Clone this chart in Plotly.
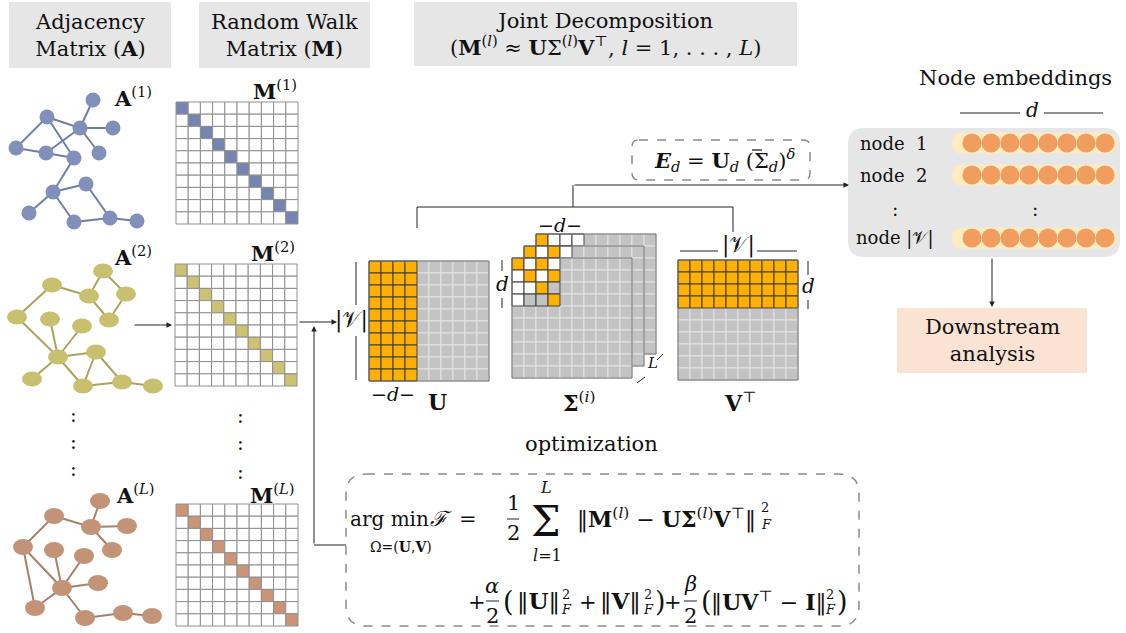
import plotly.graph_objects as go

W, H = 1126, 633
FONT = "DejaVu Serif"

# ---- three graph layers: node centres and edge lists ----
g1_x = [93, 47, 80, 113, 16, 46, 74, 99, 53, 86, 29, 74, 110, 137]
g1_y = [100, 117, 128, 128, 148, 153, 158, 153, 192, 184, 213, 222, 218, 221]
g1_edges = [(0, 2), (1, 2), (1, 4), (1, 6), (2, 5), (2, 3), (2, 7), (4, 5), (5, 6),
            (6, 8), (8, 9), (8, 10), (8, 11), (9, 12), (11, 12), (12, 13)]

g2_x = [103, 52, 89, 126, 17, 50, 82, 109, 58, 96, 32, 83, 122, 153]
g2_y = [271, 285, 296, 294, 317, 319, 326, 320, 357, 352, 379, 386, 382, 386]
g2_edges = [(1, 4), (1, 2), (2, 0), (0, 3), (3, 7), (7, 2), (4, 8), (5, 8), (6, 8),
            (8, 9), (8, 10), (8, 11), (9, 11), (9, 12), (11, 12), (12, 13)]

gL_x = [100, 54, 91, 127, 23, 54, 84, 112, 62, 98, 35, 85, 123, 152]
gL_y = [501, 516, 527, 526, 547, 550, 556, 550, 588, 583, 608, 618, 613, 616]
gL_edges = [(1, 4), (1, 2), (2, 0), (2, 3), (2, 7), (4, 8), (4, 10), (5, 8), (6, 8),
            (8, 9), (8, 10), (8, 11), (11, 12), (12, 13)]

# ---- matrices ----
n_cells = 10
diag_cells = [0, 1, 2, 3, 4, 5, 6, 7, 8, 9]
u_orange_cols = [0, 1, 2, 3]
v_orange_rows = [0, 1, 2, 3]
# 1 = orange, 0 = white, 2 = grey (inside the d x d block of Sigma)
sigma_back = [[1, 0, 0, 0], [0, 1, 0, 0], [0, 0, 1, 0], [0, 0, 0, 1]]
sigma_mid = [[1, 0, 1, 0], [0, 1, 0, 1], [0, 0, 1, 0], [0, 0, 0, 1]]
sigma_front = [[1, 0, 1, 0], [0, 1, 0, 1], [0, 0, 1, 2], [0, 2, 2, 1]]

emb_rows = ["node&nbsp;&nbsp;1", "node&nbsp;&nbsp;2", "node |𝒱|"]
emb_dims = [1, 2, 3, 4, 5, 6, 7, 8]

ORANGE = "#ffb000"
GREY = "#c3c3c3"
DARK = "#3c3c3c"

shapes, annots, traces = [], [], []


def rect(x0, y0, x1, y1, fill, line="rgba(0,0,0,0)", lw=1, layer="above"):
    shapes.append(dict(type="rect", x0=x0, y0=y0, x1=x1, y1=y1, fillcolor=fill,
                       line=dict(color=line, width=lw), layer=layer))


def rrect(x0, y0, x1, y1, r, fill="rgba(0,0,0,0)", line="rgba(0,0,0,0)", lw=1, dash=None, layer="below"):
    p = (f"M{x0+r},{y0} L{x1-r},{y0} Q{x1},{y0} {x1},{y0+r} L{x1},{y1-r} Q{x1},{y1} {x1-r},{y1} "
         f"L{x0+r},{y1} Q{x0},{y1} {x0},{y1-r} L{x0},{y0+r} Q{x0},{y0} {x0+r},{y0} Z")
    shapes.append(dict(type="path", path=p, fillcolor=fill, layer=layer,
                       line=dict(color=line, width=lw, dash=dash)))


def seg(x0, y0, x1, y1, color="#222", lw=1):
    shapes.append(dict(type="line", x0=x0, y0=y0, x1=x1, y1=y1, line=dict(color=color, width=lw)))


def txt(x, y, s, size=20, color="#111", **kw):
    annots.append(dict(x=x, y=y, text=s, showarrow=False, xref="x", yref="y",
                       font=dict(family=FONT, size=size, color=color), **kw))


def arrow(x0, y0, x1, y1):
    annots.append(dict(x=x1, y=y1, ax=x0, ay=y0, xref="x", yref="y", axref="x", ayref="y",
                       text="", showarrow=True, arrowhead=2, arrowsize=1.1, arrowwidth=1,
                       arrowcolor="#222"))


# header boxes
rect(9, 2, 171, 68, "#e6e6e6", layer="below")
rect(199, 2, 370, 68, "#e6e6e6", layer="below")
rect(414, 2, 797, 66, "#e6e6e6", layer="below")
txt(90, 35, "Adjacency<br>Matrix (<b>A</b>)", 21)
txt(284, 35, "Random Walk<br>Matrix (<b>M</b>)", 21)
txt(605, 34, "Joint Decomposition<br>(<b>M</b><sup>(<i>l</i>)</sup> ≈ <b>U</b>Σ<sup>(<i>l</i>)</sup>"
    "<b>V</b><sup>⊤</sup>, <i>l</i> = 1, . . . , <i>L</i>)", 21)

# graphs
graphs = [
    (g1_x, g1_y, g1_edges, "#8090bb", "#6f7ea6", 7.5, 7.5, "#7585b2", (176, 102), "(1)", (133, 97), (275, 90)),
    (g2_x, g2_y, g2_edges, "#c8bf6f", "#aca35c", 10, 7.5, "#cdc274", (175, 264), "(2)", (133, 256), (273, 252)),
    (gL_x, gL_y, gL_edges, "#c39377", "#a88068", 10, 8, "#cc9476", (176, 504), "(<i>L</i>)", (135, 494), (272, 494)),
]
for gx, gy, ged, ncol, ecol, rx, ry, mcol, (mx, my), sup, apos, mpos in graphs:
    ex, ey = [], []
    for a, b in ged:
        ex += [gx[a], gx[b], None]
        ey += [gy[a], gy[b], None]
    traces.append(go.Scatter(x=ex, y=ey, mode="lines", line=dict(color=ecol, width=2),
                             hoverinfo="skip", showlegend=False))
    for x, y in zip(gx, gy):
        shapes.append(dict(type="circle", x0=x - rx, x1=x + rx, y0=y - ry, y1=y + ry,
                           fillcolor=ncol, line=dict(width=0), layer="above"))
    c = 12.2
    for r in range(n_cells):
        for k in range(n_cells):
            fill = mcol if (r == k and r in diag_cells) else "white"
            rect(mx + k * c, my + r * c, mx + (k + 1) * c, my + (r + 1) * c, fill, "#8f8f8f", 1)
    txt(apos[0], apos[1], "<b>A</b><sup>" + sup + "</sup>", 21)
    txt(mpos[0], mpos[1], "<b>M</b><sup>" + sup + "</sup>", 21)

# vertical dots
for y in [415, 442, 469]:
    txt(73, y, ":", 20)
for y in [416, 443, 472]:
    txt(240, y, ":", 20)


def block(x0, y0, kind):
    c = 12
    dark = []
    for r in range(n_cells):
        for k in range(n_cells):
            if kind == "U":
                state = 1 if k in u_orange_cols else 3
            elif kind == "V":
                state = 1 if r in v_orange_rows else 3
            else:
                state = kind[r][k] if (r < 4 and k < 4) else 3
            if state == 3:
                rect(x0 + k * c, y0 + r * c, x0 + (k + 1) * c, y0 + (r + 1) * c, GREY, "#e4e4e4", 1)
            else:
                dark.append((r, k, state))
    for r, k, state in dark:
        fill = {1: ORANGE, 0: "white", 2: GREY}[state]
        rect(x0 + k * c, y0 + r * c, x0 + (k + 1) * c, y0 + (r + 1) * c, fill, DARK, 1)
    rect(x0, y0, x0 + n_cells * c, y0 + n_cells * c, "rgba(0,0,0,0)", "#6a6a6a", 1)


block(369, 261, "U")
block(536, 234, sigma_back)
block(524, 246, sigma_mid)
block(512, 258, sigma_front)
block(678, 260, "V")

# labels around the factor matrices
txt(393, 394, "−<i>d</i>−", 19)
txt(437, 402, "<b>U</b>", 22)
txt(351, 320, "|𝒱|", 22)
seg(356, 262, 356, 305)
seg(356, 336, 356, 380)
txt(579, 402, "<b>Σ</b><sup>(<i>i</i>)</sup>", 22)
txt(560, 225, "−<i>d</i>−", 19)
txt(502, 284, "<i>d</i>", 20)
seg(502, 260, 502, 271)
seg(502, 298, 502, 308)
txt(652, 363, "<i>L</i>", 15)
seg(637, 383, 645, 377)
seg(657, 360, 663, 354)
txt(738, 245, "|𝒱|", 22)
seg(680, 251, 718, 251)
seg(757, 251, 797, 251)
txt(808, 286, "<i>d</i>", 20)
seg(808, 261, 808, 275)
seg(808, 300, 808, 309)
txt(740, 402, "<b>V</b><sup>⊤</sup>", 22)

# connectors
arrow(133, 325, 172, 325)
arrow(298, 322, 337, 322)
seg(346, 545, 314, 545)
arrow(314, 545, 314, 326)
seg(417, 228, 417, 207)
seg(417, 207, 733, 207)
seg(733, 207, 733, 232)
seg(573, 207, 573, 185)
arrow(573, 185, 849, 185)
arrow(992, 257, 992, 307)

# E_d box
rrect(632, 140, 810, 180, 7, line="#8a8a8a", lw=1.5, dash="dash", layer="above")
txt(724, 160, "<b><i>E</i></b><sub><i>d</i></sub> = <b>U</b><sub><i>d</i></sub> (Σ<sub><i>d</i></sub>)<sup><i>δ</i></sup>", 21)
seg(752, 150, 762, 150, "#111", 1.2)

# node embeddings panel
txt(1015, 78, "Node embeddings", 21)
seg(960, 113, 1020, 113)
seg(1044, 113, 1103, 113)
txt(1032, 110, "<i>d</i>", 20)
rrect(848, 128, 1120, 257, 16, fill="#e6e6e6")
emb_y = [143, 175, 238]
for lab, y in zip(emb_rows, emb_y):
    txt(894, y, lab, 18)
    rrect(952, y - 10.5, 1117, y + 10.5, 10, fill="#fdecc0")
    traces.append(go.Scatter(x=[972 + 19 * (d - 1) for d in emb_dims], y=[y] * len(emb_dims),
                             mode="markers", marker=dict(size=19, color="#f09d5f"),
                             hoverinfo="skip", showlegend=False))
txt(895, 209, ":", 19)
txt(1035, 209, ":", 19)
rect(897, 308, 1087, 373, "#fbe3d4", layer="below")
txt(992, 340, "Downstream<br>analysis", 21)

# optimization box
txt(591, 444, "optimization", 21)
rrect(346, 474, 859, 626, 20, line="#8a8a8a", lw=1.5, dash="dash", layer="above")

FS = 21
formula_text = ["arg min", "Ω=(<b>U</b>,<b>V</b>)", "<i>ℱ</i>", "=", "1", "2", "Σ", "<i>L</i>", "<i>l</i>=1",
                "‖<b>M</b><sup>(<i>l</i>)</sup> − <b>UΣ</b><sup>(<i>l</i>)</sup><b>V</b><sup>⊤</sup>‖", "2", "<i>F</i>",
                "+", "<i>α</i>", "2", "(", "‖<b>U</b>‖", "2", "<i>F</i>", "+", "‖<b>V</b>‖", "2", "<i>F</i>", ")",
                "+", "<i>β</i>", "2", "(", "‖<b>UV</b><sup>⊤</sup> − <b>I</b>‖", "2", "<i>F</i>", ")"]
formula_x = [389, 401, 441, 468, 513, 513, 546, 546, 547, 666, 765, 766,
             477, 492, 492, 508, 538, 566, 566, 588, 620, 648, 648, 660,
             673, 690, 690, 706, 768, 830, 830, 842]
formula_y = [519, 547, 519, 519, 503, 533, 521, 487, 555, 518, 507, 524,
             602, 586, 616, 601, 601, 594, 609, 602, 601, 594, 609, 601,
             602, 584, 616, 601, 601, 594, 609, 601]
formula_size = [20, 14, FS, FS, FS, FS, 42, 16, 16, 22, 13, 13,
                FS, FS, FS, 27, 23, 13, 13, FS, 23, 13, 13, 27,
                FS, FS, FS, 27, 22, 13, 13, 27]
for s, x, y, z in zip(formula_text, formula_x, formula_y, formula_size):
    txt(x, y, s, z)
seg(507, 519, 519, 519)
seg(486, 601, 499, 601)
seg(684, 601, 697, 601)

fig = go.Figure(traces)
fig.update_layout(
    width=W, height=H, margin=dict(l=0, r=0, t=0, b=0),
    paper_bgcolor="white", plot_bgcolor="white",
    xaxis=dict(range=[0, W], visible=False, fixedrange=True),
    yaxis=dict(range=[H, 0], visible=False, fixedrange=True),
    shapes=shapes, annotations=annots, showlegend=False,
)
fig.write_html("out.html", config={"displayModeBar": False},
               post_script="document.body.style.margin='0';document.body.style.overflow='hidden';")
